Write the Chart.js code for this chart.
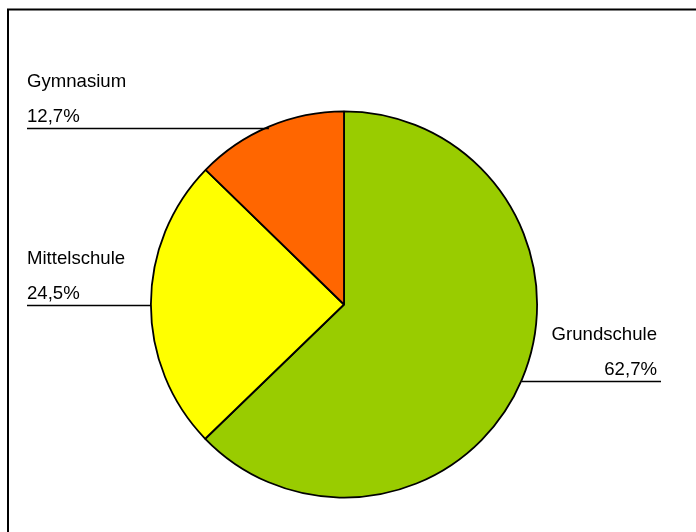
<!DOCTYPE html>
<html>
<head>
<meta charset="utf-8">
<script src="https://cdn.jsdelivr.net/npm/chart.js@4"></script>
<style>
  html, body { margin: 0; padding: 0; background: #fff; }
  #wrap { width: 696px; height: 532px; position: relative; }
</style>
</head>
<body>
<div id="wrap"><canvas id="chart" width="696" height="532"></canvas></div>
<script>
const labels = ['Grundschule', 'Mittelschule', 'Gymnasium'];
const values = [62.7, 24.5, 12.7];
const colors = ['#99CC00', '#FFFF00', '#FF6600'];

// frame lines (only left and top edge are visible in the picture)
const framePlugin = {
    id: 'frame',
    beforeDraw(chart) {
        const ctx = chart.ctx;
        ctx.save();
        ctx.strokeStyle = '#000';
        ctx.lineWidth = 2;
        ctx.beginPath();
        ctx.moveTo(8, 540);
        ctx.lineTo(8, 9.5);
        ctx.lineTo(700, 9.5);
        ctx.stroke();
        ctx.restore();
    }
};

// labels with horizontal leader lines from the middle of each slice edge
const labelPlugin = {
    id: 'sliceLabels',
    afterDatasetsDraw(chart) {
        const ctx = chart.ctx;
        const arcs = chart.getDatasetMeta(0).data;
        ctx.save();
        ctx.font = '18.6px "Liberation Sans", Arial, sans-serif';
        ctx.fillStyle = '#000';
        ctx.strokeStyle = '#000';
        ctx.lineWidth = 1.5;
        arcs.forEach((arc, i) => {
            const mid = (arc.startAngle + arc.endAngle) / 2;
            const ex = arc.x + Math.cos(mid) * arc.outerRadius;
            const ey = arc.y + Math.sin(mid) * arc.outerRadius;
            const ly = Math.round(ey) + 1.5;
            const pct = values[i].toFixed(1).replace('.', ',') + '%';
            ctx.beginPath();
            if (ex < arc.x) {
                ctx.moveTo(27, ly);
                ctx.lineTo(ex, ly);
                ctx.stroke();
                ctx.textAlign = 'left';
                ctx.fillText(labels[i], 27, ly - 42);
                ctx.fillText(pct, 27, ly - 7);
            } else {
                ctx.moveTo(ex, ly);
                ctx.lineTo(661, ly);
                ctx.stroke();
                ctx.textAlign = 'right';
                ctx.fillText(labels[i], 657, ly - 42);
                ctx.fillText(pct, 657, ly - 7);
            }
        });
        ctx.restore();
    }
};

new Chart(document.getElementById('chart'), {
    type: 'pie',
    data: {
        labels: labels,
        datasets: [{
            data: values,
            backgroundColor: colors,
            borderColor: '#000',
            borderWidth: 1.8
        }]
    },
    options: {
        responsive: false,
        animation: false,
        layout: { padding: { left: 150, right: 158, top: 110, bottom: 33 } },
        plugins: {
            legend: { display: false },
            tooltip: { enabled: false }
        }
    },
    plugins: [framePlugin, labelPlugin]
});
</script>
</body>
</html>
